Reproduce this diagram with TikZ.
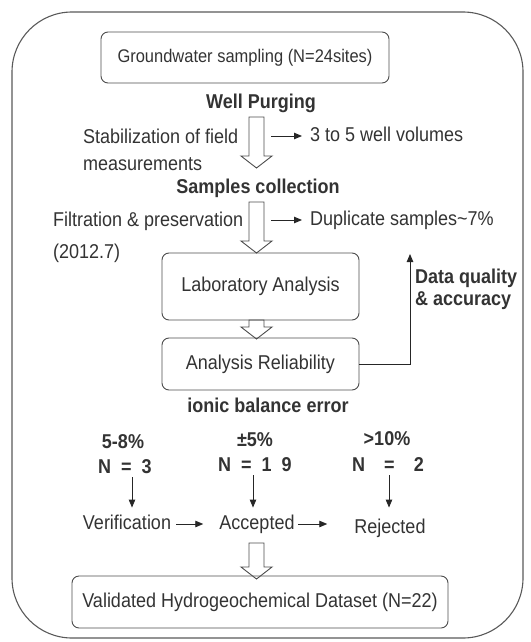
\documentclass[tikz,border=0pt]{standalone}
\usepackage{fontspec}
\setmainfont{Liberation Sans}[FakeStretch=0.9]
\usetikzlibrary{arrows.meta}

\begin{document}
\begin{tikzpicture}[x=1pt, y=-1pt,
    txt/.style={text=black!80, inner sep=0pt, text height=14.5pt, text depth=4pt, font=\fontsize{20}{24}\selectfont},
    hdr/.style={txt, font=\fontsize{20}{24}\selectfont\bfseries},
    box/.style={txt, draw=black!70, line width=0.9pt, rounded corners=7pt},
    arr/.style={-{Triangle[length=8pt,width=6.5pt]}, black!85, line width=0.9pt},
    pics/hollow/.style={code={
        \draw[black!70, line width=0.9pt] (-7.5,0) -- (-7.5,{#1-12}) -- (-15.5,{#1-12}) -- (0,#1) -- (15.5,{#1-12}) -- (7.5,{#1-12}) -- (7.5,0) -- cycle;}}]
    % border
    \useasboundingbox (0,0) rectangle (530,642);
    \draw[black!65, line width=1.1pt, rounded corners=60pt] (12,12) rectangle (523,638);
    % sampling
    \node[box, minimum width=288pt, minimum height=51pt, font=\fontsize{18.3}{22}\selectfont] (sampling) at (245,57.5) {Groundwater sampling (N=24sites)};
    \node[hdr] (purging) at (261,103) {Well Purging};
    \node[txt, anchor=west] (stab1) at (83,138) {Stabilization of field};
    \node[txt, anchor=west] (stab2) at (83,165) {measurements};
    \node[txt, anchor=west] (volumes) at (310,136) {3 to 5 well volumes};
    \node[hdr] (collection) at (258,188) {Samples collection};
    \node[txt, anchor=west] (filt1) at (53,221) {Filtration \& preservation};
    \node[txt, anchor=west] (filt2) at (53,253) {(2012.7)};
    \node[txt, anchor=west] (duplicate) at (310,220) {Duplicate samples\textasciitilde 7\%};
    % analysis
    \node[box, minimum width=197pt, minimum height=67pt] (lab) at (260.5,286.5) {Laboratory Analysis};
    \node[box, minimum width=197pt, minimum height=52pt] (reliability) at (260.5,364) {Analysis Reliability};
    \node[hdr, anchor=west] (quality1) at (415,278) {Data quality};
    \node[hdr, anchor=west] (quality2) at (415,300) {\& accuracy};
    \node[hdr] (ionic) at (268,407) {ionic balance error};
    \coordinate (qtop) at (410,254);
    % error classes
    \node[hdr] (pc1) at (123,443) {5-8\%};
    \node[hdr] (n1) at (125,468) {N\hspace{0.5em}=\hspace{0.5em}3};
    \node[hdr] (pc2) at (255,441) {±5\%};
    \node[hdr] (n2) at (255,466) {N\hspace{0.5em}=\hspace{0.5em}1\hspace{0.5em}9};
    \node[hdr] (pc3) at (387,440) {>10\%};
    \node[hdr] (n3) at (388,466) {N\hspace{0.95em}=\hspace{0.95em}2};
    \node[txt] (verification) at (127,524) {Verification};
    \node[txt] (accepted) at (257,524) {Accepted};
    \node[txt] (rejected) at (390,528) {Rejected};
    \node[box, minimum width=376pt, minimum height=52pt] (dataset) at (260,602) {Validated Hydrogeochemical Dataset (N=22)};
    % hollow arrows
    \path (256.5,117) pic {hollow=51};
    \path (256.5,202) pic {hollow=51};
    \path (256.5,320) pic {hollow=19};
    \path (256.5,543) pic {hollow=36};
    % side arrows
    \draw[arr] ([xshift=-39pt]volumes.west) -- ([xshift=-8pt]volumes.west);
    \draw[arr] ([xshift=-39pt]duplicate.west) -- ([xshift=-8pt]duplicate.west);
    \draw[arr] (reliability.east) -| (qtop);
    \draw[arr] ([xshift=7pt]n1.south) -- ([xshift=5pt,yshift=7pt]verification.north);
    \draw[arr] ([xshift=-2pt]n2.south) -- ([xshift=-4pt,yshift=7pt]accepted.north);
    \draw[arr] ([xshift=1pt]n3.south) -- ([xshift=-1pt,yshift=11pt]rejected.north);
    \draw[arr] ([xshift=5pt]verification.east) -- ([xshift=-16pt]accepted.west);
    \draw[arr] ([xshift=3.5pt]accepted.east) -- ([xshift=-27pt,yshift=4pt]rejected.west);
\end{tikzpicture}
\end{document}
